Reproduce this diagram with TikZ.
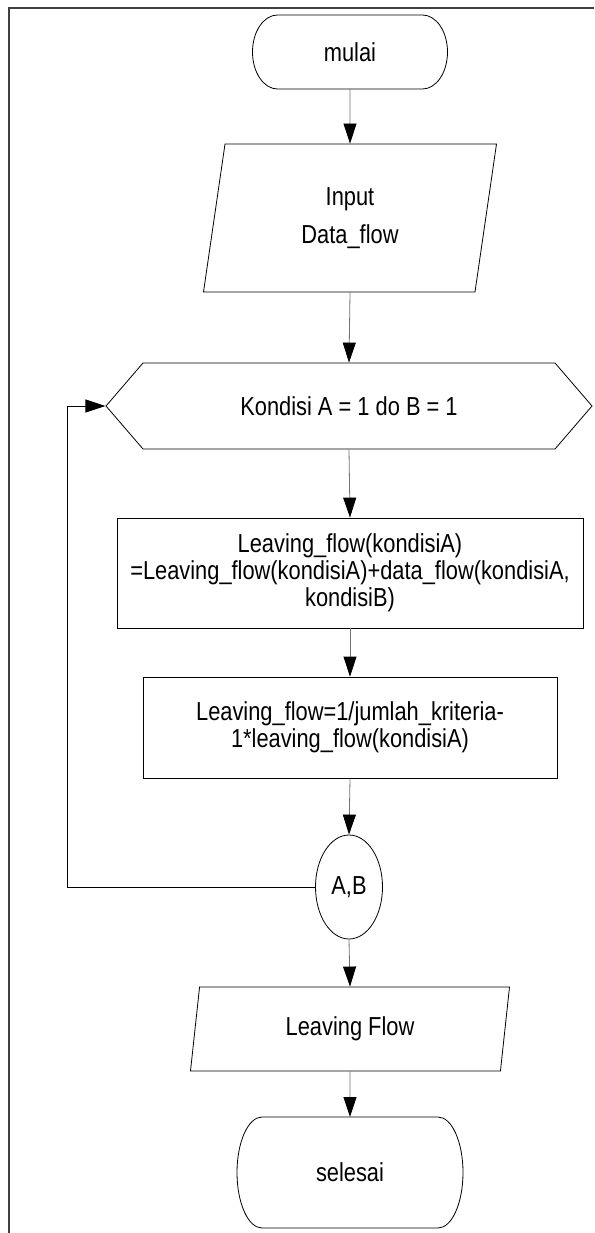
\documentclass[tikz,border=0pt]{standalone}
\usepackage{fontspec}
\setmainfont[FakeStretch=0.84]{Liberation Sans}
\usepackage{tikz}
\usetikzlibrary{arrows.meta}
\usetikzlibrary{shapes.geometric}
\usetikzlibrary{shapes.symbols}

\begin{document}
\begin{tikzpicture}
	[x=1pt,y=-1pt,font=\fontsize{26}{27}\selectfont,
	every node/.style={draw,line width=0.8pt,align=center,inner sep=2pt},
	ends/.style={draw=none,outer sep=0pt,minimum width=#1},
	io/.style={trapezium,trapezium stretches body,minimum width=#1},
	proc/.style={rectangle,minimum width=#1},
	flowline/.style={draw=black!55,line width=0.8pt,-{Triangle[length=20pt,width=13pt,color=black]}}]
	\useasboundingbox (0,0) rectangle (594,1233);
	\draw[black!75,line width=1.3pt] (9,1233) -- (9,8) -- (594,8);

	\node[ends=195pt,minimum height=74pt] (mulai) at (350,52) {mulai};
	\node[io=293pt,minimum height=148pt,trapezium left angle=71.7,trapezium right angle=108.3] (input) at (350,218) {Input\\[11pt]Data\_flow};
	\node[signal,signal to=west and east,signal pointer angle=98.6,minimum width=486pt,minimum height=86pt] (cond) at (349,406) {Kondisi A = 1 do B = 1};
	\node[proc=466pt,minimum height=110pt] (box1) at (350,573) {Leaving\_flow(kondisiA)\\=Leaving\_flow(kondisiA)+data\_flow(kondisiA,\\kondisiB)};
	\node[proc=414pt,minimum height=101pt] (box2) at (350,727.5) {Leaving\_flow=1/jumlah\_kriteria-\\1*leaving\_flow(kondisiA)};
	\node[ellipse,minimum width=67pt,minimum height=104pt,inner sep=0pt] (ab) at (349,887) {A,B};
	\node[io=319pt,minimum height=84pt,trapezium left angle=72.2,trapezium right angle=107.8] (output) at (350,1029) {Leaving Flow};
	\node[ends=226pt,minimum height=111pt] (selesai) at (350,1172.5) {selesai};

	\foreach \n/\ry in {mulai/37pt,selesai/55.5pt}
	\draw[line width=0.8pt] ([xshift=25pt]\n.north west) -- ([xshift=-25pt]\n.north east)
		arc[start angle=90,end angle=-90,x radius=25pt,y radius=\ry]
		-- ([xshift=25pt]\n.south west)
		arc[start angle=270,end angle=90,x radius=25pt,y radius=\ry] -- cycle;

	\foreach \from/\to in
	{mulai/input, input/cond, cond/box1, box1/box2, box2/ab, ab/output, output/selesai}
	\draw[flowline] (\from.south) -- (\to.north);

	\coordinate (back) at (67,887);
	\draw[flowline,draw=black] (ab.west) -- (back) |- (cond.west);
\end{tikzpicture}
\end{document}
